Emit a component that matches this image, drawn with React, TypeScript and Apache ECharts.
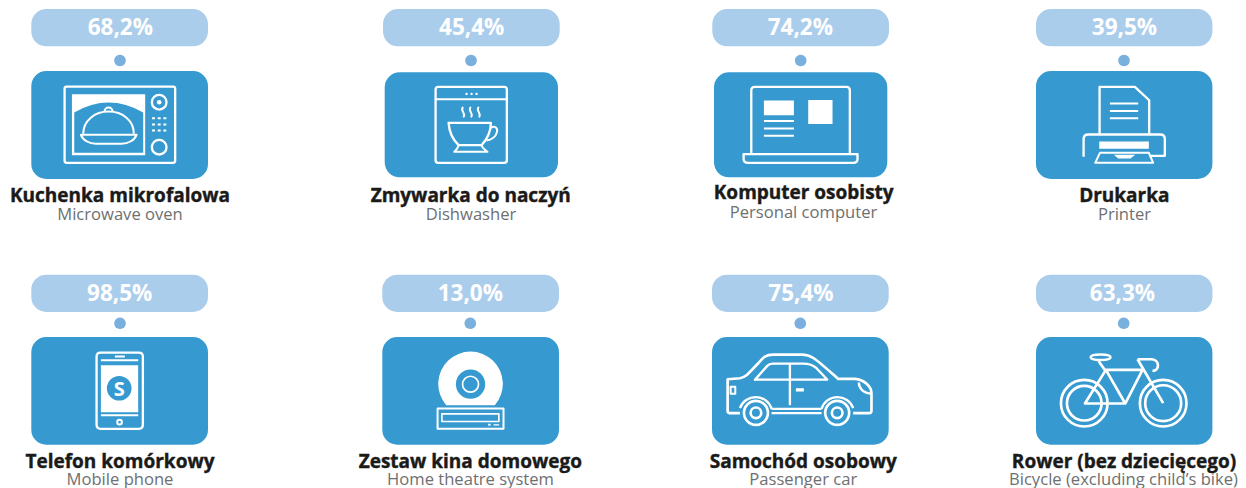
import React, { useEffect, useRef } from "react";
import * as echarts from "echarts";

const values = ["68,2%", "45,4%", "74,2%", "39,5%", "98,5%", "13,0%", "75,4%", "63,3%"];
const titles = ["Kuchenka mikrofalowa", "Zmywarka do naczyń", "Komputer osobisty", "Drukarka", "Telefon komórkowy", "Zestaw kina domowego", "Samochód osobowy", "Rower (bez dziecięcego)"];
const subtitles = ["Microwave oven", "Dishwasher", "Personal computer", "Printer", "Mobile phone", "Home theatre system", "Passenger car", "Bicycle (excluding child’s bike)"];

const PILL = "#abcdec";
const DOT = "#7ab0dd";
const CARD = "#369ad0";
const WHITE = "#ffffff";
const FONT = "'Open Sans', 'Noto Sans', sans-serif";

// geometry of each tile (separate from data)
type Tile = { pill: number[]; dot: number[]; card: number[]; val: number[]; title: number[]; sub: number[]; origin: number[] };
const tiles: Tile[] = [
  { pill: [31.3, 9, 176.7, 37.3], dot: [120, 60.5], card: [31.3, 71, 176.7, 108], val: [120.3, 26.7], title: [120, 194.5], sub: [120, 213.5], origin: [0, 0] },
  { pill: [383, 9, 176.7, 37.3], dot: [471, 60.5], card: [384.7, 72.3, 173.3, 105], val: [471.7, 26.7], title: [470.7, 194.5], sub: [471, 213.5], origin: [360, 0] },
  { pill: [712.3, 9, 176.7, 37.3], dot: [800.7, 60.5], card: [714, 72.3, 173.3, 105], val: [800.3, 26.7], title: [803.7, 192.2], sub: [803.5, 211.8], origin: [690, 0] },
  { pill: [1036, 9, 176.4, 37.3], dot: [1124, 60.5], card: [1036, 71, 176.4, 108], val: [1124.5, 26.7], title: [1124.3, 194.5], sub: [1124.5, 213.5], origin: [1010, 0] },
  { pill: [31.3, 274.7, 176.7, 37.3], dot: [120, 323.3], card: [31.3, 337, 176.7, 107.7], val: [119.7, 292.3], title: [120, 460.5], sub: [120, 478.8], origin: [0, 260] },
  { pill: [382.3, 274.7, 176.7, 37.3], dot: [470.3, 323.3], card: [382.3, 337, 176.7, 107.7], val: [470.3, 292.3], title: [470.3, 460.5], sub: [470.5, 478.8], origin: [350, 260] },
  { pill: [712, 274.7, 176.7, 37.3], dot: [800.3, 323.3], card: [712, 337, 176.7, 107.7], val: [801, 292.3], title: [803.3, 460.5], sub: [803.3, 478.8], origin: [690, 260] },
  { pill: [1036, 274.7, 176.4, 37.3], dot: [1123.7, 323.3], card: [1036, 337, 176.4, 107.7], val: [1122.5, 292.3], title: [1124, 460.5], sub: [1123.5, 478.8], origin: [1006, 260] },
];

const circ = (x: number, y: number, r: number) =>
  `M ${x - r} ${y} A ${r} ${r} 0 1 1 ${x + r} ${y} A ${r} ${r} 0 1 1 ${x - r} ${y} Z`;
const box = (x0: number, y0: number, x1: number, y1: number) => `M ${x0} ${y0} H ${x1} V ${y1} H ${x0} Z`;
const rr = (x0: number, y0: number, x1: number, y1: number, r: number) =>
  `M ${x0 + r} ${y0} H ${x1 - r} Q ${x1} ${y0} ${x1} ${y0 + r} V ${y1 - r} Q ${x1} ${y1} ${x1 - r} ${y1} H ${x0 + r} Q ${x0} ${y1} ${x0} ${y1 - r} V ${y0 + r} Q ${x0} ${y0} ${x0 + r} ${y0} Z`;

// icon layers, drawn at one third scale from the tile's origin
type Layer = { d: string; fill?: string; stroke?: string; lw?: number };
const icons: Layer[][] = [
  [
    { d: rr(194, 260, 526, 489, 6), stroke: WHITE, lw: 7 },
    { d: box(216, 283, 436, 466), fill: WHITE },
    { d: "M 223 338 Q 326 278 430 338 V 459 H 223 Z", fill: CARD },
    { d: "M 250 402 C 250 362 285 335 326 335 C 368 335 402 362 402 402 M 314 335 A 12 12 0 1 1 338 335", stroke: WHITE, lw: 6 },
    { d: "M 243 405 H 410 C 405 420 385 432 365 432 H 288 C 268 432 248 420 243 405 Z", stroke: WHITE, lw: 6 },
    { d: circ(478, 307, 22) + " " + circ(478, 442, 22), stroke: WHITE, lw: 7 },
    { d: circ(478, 307, 7), fill: WHITE },
    {
      d: [461, 478, 495].flatMap((x) => [355, 374, 392].map((y) => box(x - 4.5, y - 3, x + 4.5, y + 3))).join(" "),
      fill: WHITE,
    },
  ],
  [
    { d: rr(227, 261, 441, 489, 8), stroke: WHITE, lw: 7 },
    { d: "M 227 298 H 441", stroke: WHITE, lw: 6 },
    { d: [320, 335, 350].map((x) => circ(x, 282, 3.5)).join(" "), fill: WHITE },
    {
      d: [310, 333, 357].map((x) => `M ${x} 321 C ${x - 12} 331 ${x + 11} 342 ${x} 352`).join(" "),
      stroke: WHITE,
      lw: 6,
    },
    { d: "M 266 369 H 393 C 393 400 375 425 365 436 H 296 C 285 425 268 400 266 369 Z", stroke: WHITE, lw: 7 },
    { d: "M 393 384 C 405 375 415 385 411 397 C 408 410 395 420 380 422", stroke: WHITE, lw: 6 },
    { d: "M 296 436 C 295 446 288 450 283 456 H 383 C 378 450 366 446 365 436", stroke: WHITE, lw: 6 },
  ],
  [
    { d: "M 184 463 V 272 Q 184 261 195 261 H 470 Q 480 261 480 272 V 463", stroke: WHITE, lw: 7 },
    { d: "M 161 463 H 503 V 478 Q 503 489 490 489 H 175 Q 161 489 161 478 Z", stroke: WHITE, lw: 7 },
    { d: box(222, 302, 312, 346) + " " + box(355, 300, 428, 372), fill: WHITE },
    { d: "M 222 363 H 312 M 222 386 H 312 M 222 408 H 312", stroke: WHITE, lw: 6 },
  ],
  [
    { d: "M 269 402 V 261 H 375 L 418 301 V 402", stroke: WHITE, lw: 7 },
    { d: "M 300 311 H 385 M 300 333 H 385 M 300 355 H 385", stroke: WHITE, lw: 6 },
    { d: "M 221 471 V 418 Q 221 404 235 404 H 451 Q 465 404 465 418 V 468 H 420", stroke: WHITE, lw: 7 },
    { d: box(268, 425, 417, 447), fill: WHITE },
    { d: "M 270 459 L 256 489 H 430 L 417 459 Z", stroke: WHITE, lw: 6 },
    { d: "M 312 465 H 376 L 362 476 H 325 Z", fill: WHITE },
  ],
  [
    { d: rr(290, 278, 429, 507, 12), stroke: WHITE, lw: 7 },
    { d: box(303, 316, 415, 457), fill: WHITE },
    { d: "M 303 301 H 415 M 303 466 H 415 M 345 290 H 375", stroke: WHITE, lw: 6 },
    { d: circ(358, 385, 37), fill: CARD },
    { d: circ(359, 487, 7), stroke: WHITE, lw: 6 },
  ],
  [
    { d: "M 289 436 A 97 97 0 1 1 435 436 Z", fill: WHITE },
    { d: circ(362, 373, 44), fill: CARD },
    { d: circ(362, 373, 24), stroke: WHITE, lw: 5 },
    { d: box(263, 446, 461, 507), stroke: WHITE, lw: 6 },
    { d: box(276, 462, 447, 485), stroke: WHITE, lw: 5 },
    { d: box(415, 492, 422, 498) + " " + box(431, 493, 448, 497), fill: WHITE },
  ],
  [
    {
      d: "M 150 460 H 120 Q 113 460 113 452 V 358 L 150 355 C 170 352 180 335 205 310 C 220 292 228 284 250 284 H 335 C 365 284 375 295 445 357 H 495 C 525 360 545 380 545 400 V 452 Q 545 460 538 460 H 490",
      stroke: WHITE,
      lw: 8,
    },
    { d: "M 245 460 H 395 M 245 447 H 395", stroke: WHITE, lw: 7 },
    { d: "M 150 445 A 50 50 0 0 1 245 447 M 395 447 A 50 50 0 0 1 490 445", stroke: WHITE, lw: 7 },
    { d: circ(198, 459, 36) + " " + circ(198, 459, 16) + " " + circ(442, 459, 36) + " " + circ(442, 459, 16), stroke: WHITE, lw: 8 },
    { d: "M 195 360 L 232 318 Q 238 311 248 311 H 340 Q 365 311 380 325 L 412 359 H 195 Z", stroke: WHITE, lw: 7 },
    { d: "M 300 311 V 436", stroke: WHITE, lw: 7 },
    { d: box(318, 385, 342, 395), fill: WHITE },
    { d: box(122, 381, 136, 402), stroke: WHITE, lw: 6 },
    { d: "M 507 368 C 507 385 520 400 545 401", stroke: WHITE, lw: 7 },
  ],
  [
    { d: circ(235, 430, 70) + " " + circ(235, 430, 52) + " " + circ(472, 430, 70) + " " + circ(472, 430, 54), stroke: WHITE, lw: 8 },
    { d: "M 300 330 L 358 431 H 237 L 300 330 H 410 L 358 431", stroke: WHITE, lw: 8 },
    { d: "M 278 303 L 300 335 M 395 298 L 472 430 M 395 298 H 438 C 462 300 462 332 440 333", stroke: WHITE, lw: 8 },
    { d: "M 254 292 C 254 281 314 281 314 292 C 314 303 254 303 254 292 Z", stroke: WHITE, lw: 7 },
  ],
];

const registered = new Set<string>();
function shape(name: string, d: string) {
  if (!registered.has(name)) {
    echarts.graphic.registerShape(name, echarts.graphic.extendPath(d, {}) as any);
    registered.add(name);
  }
  return name;
}

function buildGraphic() {
  const out: any[] = [];
  const label = (text: string, x: number, y: number, font: string, fill: string, stroke?: number) => ({
    type: "text",
    silent: true,
    style: {
      text, x, y, font, fill,
      align: "center", verticalAlign: "middle", textAlign: "center", textVerticalAlign: "middle",
      ...(stroke ? { stroke: fill, lineWidth: stroke } : {}),
    },
  });
  tiles.forEach((t, i) => {
    out.push({ type: "rect", silent: true, shape: { x: t.pill[0], y: t.pill[1], width: t.pill[2], height: t.pill[3], r: 15 }, style: { fill: PILL } });
    out.push({ type: "circle", silent: true, shape: { cx: t.dot[0], cy: t.dot[1], r: 5.8 }, style: { fill: DOT } });
    out.push({ type: "rect", silent: true, shape: { x: t.card[0], y: t.card[1], width: t.card[2], height: t.card[3], r: 15 }, style: { fill: CARD } });
    icons[i].forEach((l, j) => {
      out.push({
        type: shape(`icon_${i}_${j}`, l.d),
        silent: true,
        x: t.origin[0],
        y: t.origin[1],
        scaleX: 1 / 3,
        scaleY: 1 / 3,
        style: {
          fill: l.fill ?? "none",
          stroke: l.stroke ?? "none",
          lineWidth: l.lw ?? 0,
          lineJoin: "round",
        },
      });
    });
    if (i === 4) out.push(label("S", 119.3, 388.3, `bold 20px ${FONT}`, WHITE));
    out.push(label(values[i], t.val[0], t.val[1], `bold 22.5px ${FONT}`, WHITE));
    out.push(label(titles[i], t.title[0], t.title[1], `700 19px ${FONT}`, "#1a1a18", 0.4));
    out.push(label(subtitles[i], t.sub[0], t.sub[1], `400 16.6px ${FONT}`, "#6e6f71"));
  });
  return out;
}

export default function App() {
  const ref = useRef<HTMLDivElement>(null);
  useEffect(() => {
    document.body.style.margin = "0";
    const chart = echarts.init(ref.current!, undefined, { renderer: "svg" });
    chart.setOption({ animation: false, backgroundColor: "#ffffff", graphic: { elements: buildGraphic() } });
    return () => chart.dispose();
  }, []);
  return <div ref={ref} style={{ width: 1246, height: 488 }} />;
}
